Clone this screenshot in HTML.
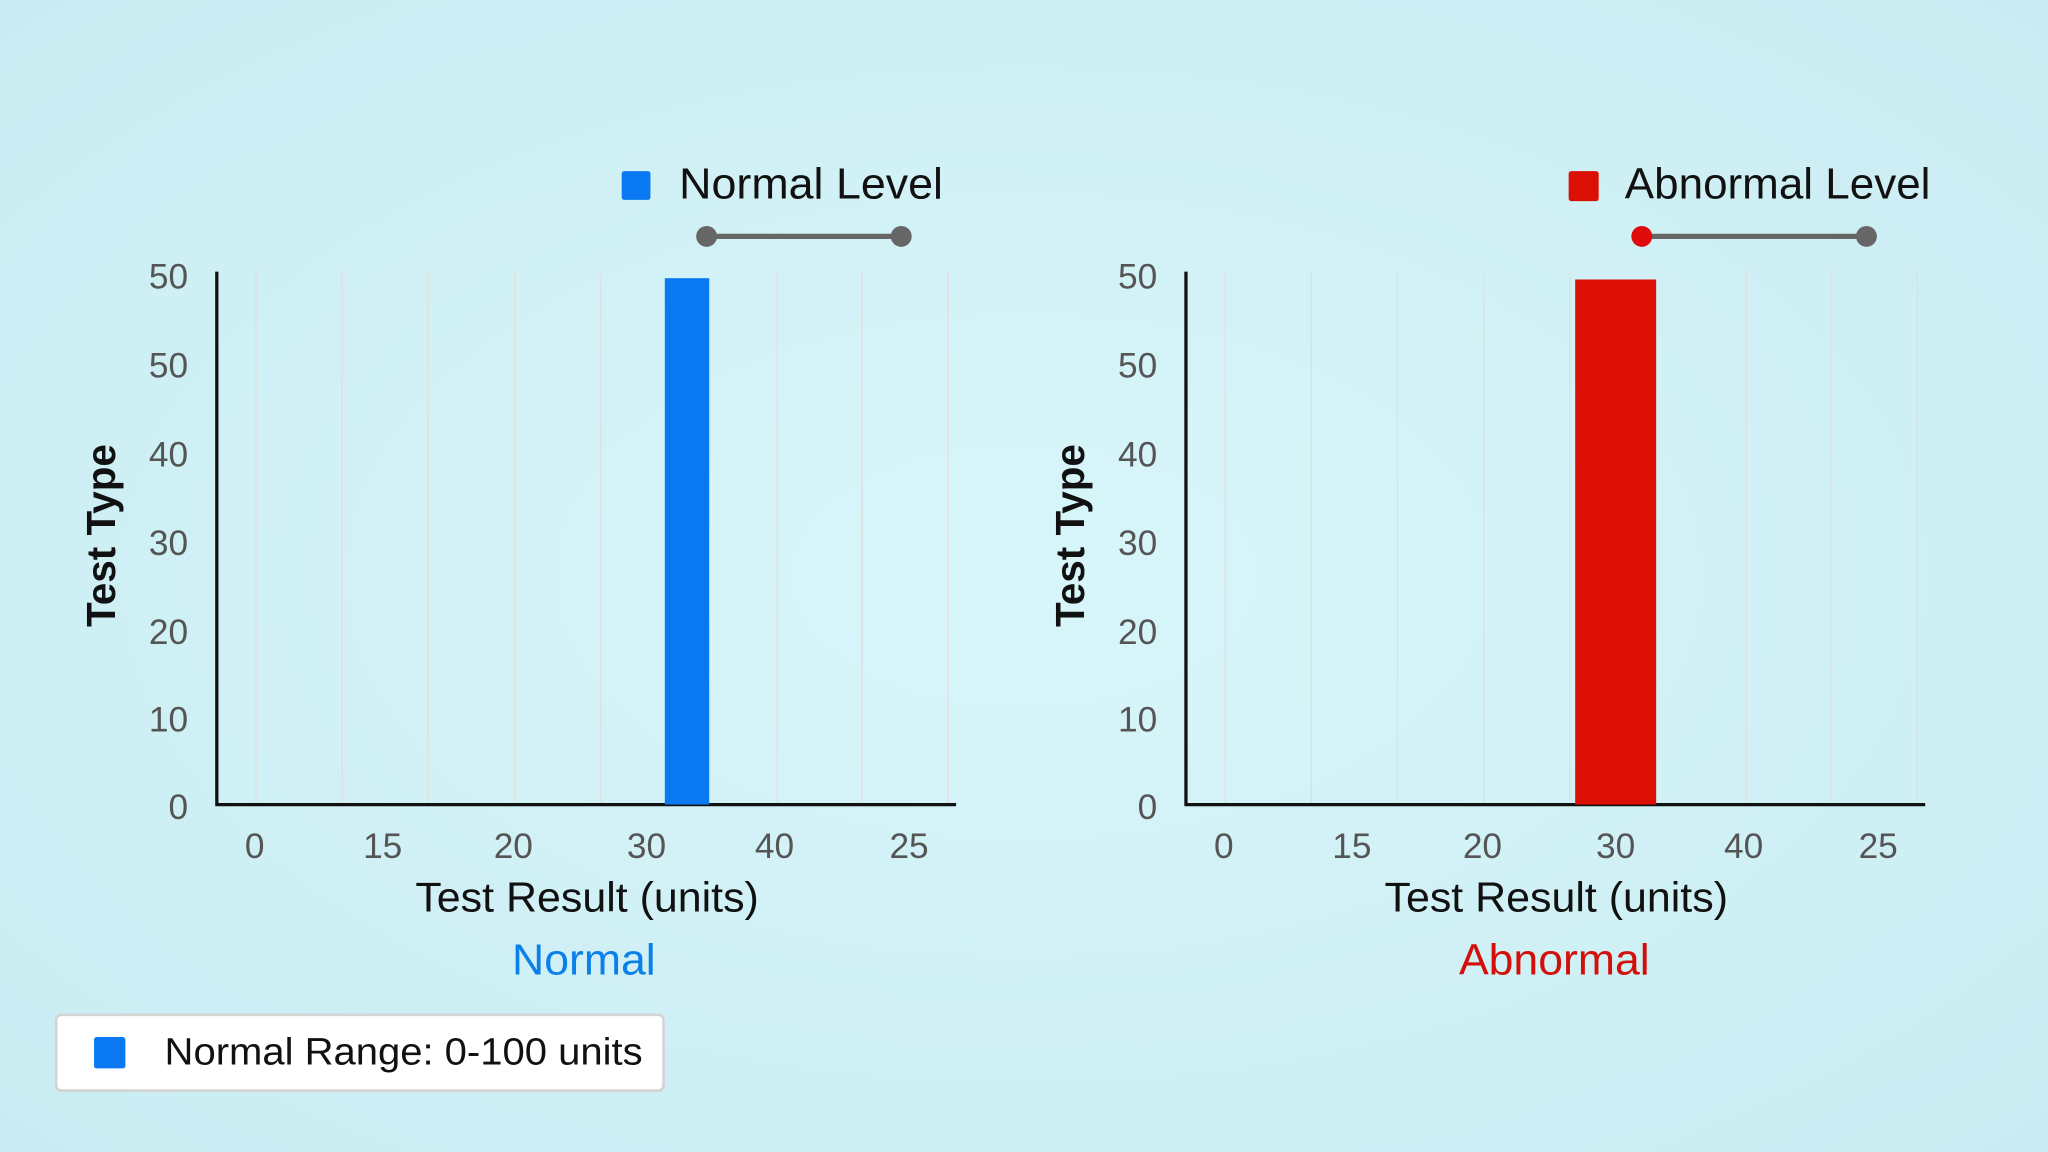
<!DOCTYPE html>
<html><head><meta charset="utf-8"><style>
html,body{margin:0;padding:0;width:2048px;height:1152px;overflow:hidden;background:#cff1f6}
svg{display:block}
text{font-family:"Liberation Sans",sans-serif}
</style></head><body>
<svg width="2048" height="1152" viewBox="0 0 1568 882" xmlns="http://www.w3.org/2000/svg">
<defs>
<radialGradient id="bg" cx="50%" cy="50%" r="70%">
<stop offset="0" stop-color="#d8f6fa"/><stop offset="1" stop-color="#c9ecf2"/>
</radialGradient>
</defs>
<rect width="1568" height="882" fill="url(#bg)"/>
<g id="L">
<g stroke="#e3dede" stroke-width="1">
<line x1="196" y1="208" x2="196" y2="616"/><line x1="262" y1="208" x2="262" y2="616"/>
<line x1="328" y1="208" x2="328" y2="616"/><line x1="394" y1="208" x2="394" y2="616"/>
<line x1="460" y1="208" x2="460" y2="616"/><line x1="595" y1="208" x2="595" y2="616"/>
<line x1="660" y1="208" x2="660" y2="616"/><line x1="726" y1="208" x2="726" y2="616"/>
</g>
<line x1="166" y1="208" x2="166" y2="617" stroke="#111" stroke-width="2.5"/>
<line x1="165" y1="616" x2="732" y2="616" stroke="#111" stroke-width="2.5"/>
<g font-size="27" fill="#555" text-anchor="end">
<text x="144" y="221">50</text><text x="144" y="289">50</text><text x="144" y="357">40</text>
<text x="144" y="425">30</text><text x="144" y="493">20</text><text x="144" y="560">10</text><text x="144" y="627">0</text>
</g>
<g font-size="27" fill="#555" text-anchor="middle">
<text x="195" y="657">0</text><text x="293" y="657">15</text><text x="393" y="657">20</text>
<text x="495" y="657">30</text><text x="593" y="657">40</text><text x="696" y="657">25</text>
</g>
<text x="318" y="698" font-size="32" fill="#111" textLength="263" lengthAdjust="spacingAndGlyphs">Test Result (units)</text>
<text transform="translate(88,410) rotate(-90)" font-size="31" font-weight="bold" fill="#111" text-anchor="middle">Test Type</text>
</g>
<use href="#L" x="742"/>
<rect x="509" y="213" width="34" height="403" fill="#0a78f0"/>
<rect x="1206" y="214" width="62" height="402" fill="#dc0f05"/>
<text x="392" y="746" font-size="33" fill="#0a80ea" textLength="110" lengthAdjust="spacingAndGlyphs">Normal</text>
<text x="1117" y="746" font-size="33" fill="#d40f0a" textLength="146" lengthAdjust="spacingAndGlyphs">Abnormal</text>
<rect x="476" y="131" width="22" height="22" rx="2" fill="#0a78f0"/>
<text x="520" y="152" font-size="33" fill="#111" textLength="202" lengthAdjust="spacingAndGlyphs">Normal Level</text>
<line x1="541" y1="181" x2="690" y2="181" stroke="#666" stroke-width="4"/>
<circle cx="541" cy="181" r="8" fill="#666"/><circle cx="690" cy="181" r="8" fill="#666"/>
<rect x="1201" y="131" width="23" height="23" rx="2" fill="#dc0f05"/>
<text x="1244" y="152" font-size="33" fill="#111" textLength="234" lengthAdjust="spacingAndGlyphs">Abnormal Level</text>
<line x1="1257" y1="181" x2="1429" y2="181" stroke="#666" stroke-width="4"/>
<circle cx="1257" cy="181" r="8" fill="#e00a0a"/><circle cx="1429" cy="181" r="8" fill="#666"/>
<rect x="43" y="777" width="465" height="58" rx="4" fill="#fff" stroke="#d4d4d4" stroke-width="2"/>
<rect x="72" y="794" width="24" height="24" rx="2" fill="#0a78f0"/>
<text x="126" y="815" font-size="29" fill="#111" textLength="366" lengthAdjust="spacingAndGlyphs">Normal Range: 0-100 units</text>
</svg>
</body></html>
